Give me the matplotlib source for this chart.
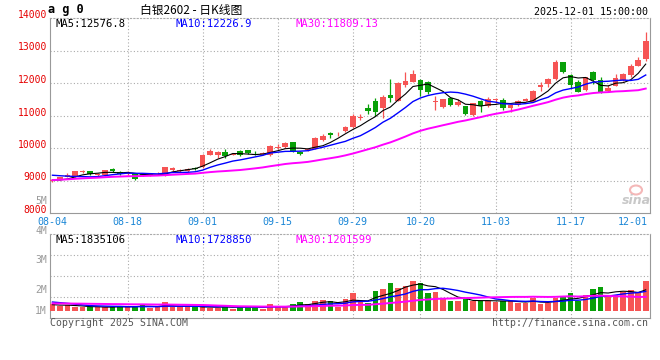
import numpy as np
import pandas as pd
import matplotlib
matplotlib.use('Agg')
import matplotlib.pyplot as plt
from matplotlib.transforms import ScaledTranslation
from matplotlib.patches import Ellipse

# ag0 daily K, 2025-08-04 .. 2025-12-01 (80 sessions)
open_ = [8990, 9030, 9120, 9110, 9260, 9280, 9170, 9160, 9350, 9260,
         9190, 9220, 9175, 9170, 9190, 9170, 9330, 9300, 9300, 9400,
         9410, 9800, 9800, 9890, 9800, 9920, 9930, 9830, 9815, 9780,
         10000, 10040, 10170, 9890, 9930, 9980, 10260, 10450, 10420, 10530,
         10640, 10920, 11240, 11450, 11230, 11630, 11460, 11950, 12040, 12090,
         12030, 11430, 11250, 11530, 11320, 11280, 11030, 11450, 11290, 11470,
         11470, 11220, 11330, 11460, 11430, 11870, 11970, 12110, 12640, 12240,
         12030, 11770, 12340, 12090, 11740, 11920, 12090, 12250, 12530, 12740]
high = [9060, 9120, 9230, 9290, 9330, 9300, 9220, 9320, 9380, 9280,
        9280, 9230, 9200, 9220, 9250, 9420, 9430, 9350, 9390, 9430,
        9810, 9970, 9900, 9960, 9860, 9940, 9950, 9900, 9870, 10090,
        10120, 10190, 10180, 9920, 10010, 10330, 10420, 10500, 10490, 10690,
        11050, 11050, 11350, 11540, 11630, 12120, 12030, 12340, 12400, 12120,
        12060, 11590, 11520, 11560, 11500, 11300, 11400, 11480, 11560, 11530,
        11540, 11350, 11480, 11550, 11780, 12020, 12140, 12710, 12660, 12290,
        12090, 12200, 12360, 12190, 11950, 12270, 12320, 12600, 12810, 13570]
low = [8950, 9010, 9100, 9100, 9220, 9180, 9150, 9140, 9260, 9180,
       9170, 9010, 9140, 9130, 9160, 9150, 9300, 9270, 9270, 9330,
       9400, 9780, 9700, 9690, 9770, 9740, 9820, 9780, 9790, 9760,
       9980, 10010, 9880, 9770, 9900, 9960, 10220, 10320, 10380, 10500,
       10620, 10850, 11050, 10970, 10930, 11430, 11450, 11870, 12020, 11610,
       11650, 11180, 11220, 11280, 11300, 11020, 11000, 11120, 11270, 11400,
       11180, 11100, 11300, 11440, 11420, 11740, 11870, 12090, 12310, 11850,
       11710, 11750, 11970, 11680, 11720, 11900, 12060, 12170, 12510, 12680]
close = [9030, 9100, 9180, 9280, 9275, 9200, 9185, 9310, 9280, 9200,
         9270, 9040, 9165, 9185, 9200, 9400, 9380, 9330, 9360, 9350,
         9790, 9900, 9880, 9760, 9820, 9770, 9840, 9800, 9830, 10070,
         10040, 10150, 9900, 9810, 9960, 10310, 10370, 10400, 10440, 10660,
         10980, 10950, 11130, 11110, 11580, 11530, 12010, 12070, 12270, 11770,
         11720, 11450, 11500, 11310, 11430, 11040, 11380, 11290, 11500, 11490,
         11230, 11330, 11450, 11520, 11760, 11940, 12110, 12640, 12350, 11950,
         11720, 12190, 12080, 11700, 11860, 12140, 12270, 12520, 12700, 13280]
# volume, millions of lots
volume = [0.63, 0.40, 0.49, 0.34, 0.34, 0.34, 0.34, 0.34, 0.34, 0.46,
          0.34, 0.40, 0.57, 0.29, 0.34, 0.74, 0.34, 0.34, 0.34, 0.34,
          0.40, 0.29, 0.29, 0.46, 0.20, 0.46, 0.34, 0.34, 0.20, 0.57,
          0.40, 0.40, 0.57, 0.74, 0.63, 0.91, 0.94, 0.83, 0.34, 1.00,
          1.60, 0.77, 0.69, 1.77, 1.94, 2.46, 2.03, 2.20, 2.63, 2.46,
          1.60, 1.69, 1.00, 0.91, 0.86, 1.00, 0.83, 0.91, 0.91, 0.77,
          0.91, 0.83, 0.69, 0.69, 1.11, 0.57, 0.69, 1.11, 1.20, 1.60,
          0.91, 1.43, 1.94, 2.11, 1.43, 1.43, 1.69, 1.80, 1.69, 2.60]
# sessions before 08-04, only feed the moving averages
pre_close = [8800, 8820, 8790, 8850, 8880, 8900, 8870, 8920, 8950, 8980,
             8960, 9000, 8990, 9010, 9030, 8980, 8970, 9000, 9050, 9050,
             9250, 9320, 9350, 9330, 9290, 9100, 9020, 8980, 8950]
pre_volume = [0.52, 0.58, 0.61, 0.55, 0.66, 0.60, 0.57, 0.63, 0.59, 0.64,
              0.62, 0.56, 0.60, 0.65, 0.58, 0.61, 0.63, 0.59, 0.62, 0.60,
              0.95, 1.10, 1.02, 0.98, 1.00, 0.58, 0.52, 0.50, 0.52]
tick_idx = [0, 10, 20, 30, 40, 49, 59, 69, 79]
tick_lab = ['08-04', '08-18', '09-01', '09-15', '09-29', '10-20', '11-03', '11-17', '12-01']

RED = '#f65454'
GREEN = '#08a008'
GRID = '#aaaaaa'
MONO = 'DejaVu Sans Mono'
W, H = 660, 360

def box(l, t, r, b):
    return [l / W, 1 - b / H, (r - l) / W, (b - t) / H]

def ma(pre, vals, n):
    s = pd.Series(list(pre) + list(vals)).rolling(n).mean().values
    return s[-len(vals):]

o = np.array(open_); c = np.array(close)
x = np.arange(len(close))
cols = np.where(c >= o, RED, GREEN)

fig = plt.figure(figsize=(6.6, 3.6), dpi=100)
ax = fig.add_axes(box(50, 18, 650, 213))
axv = fig.add_axes(box(50, 234, 650, 318))

# candles
ax.vlines(x, low, high, colors=cols, lw=0.9, zorder=2)
ax.bar(x, np.maximum(np.abs(c - o), 25), bottom=np.minimum(o, c), width=0.75,
       color=cols, linewidth=0, zorder=3)
ax.plot(x, ma(pre_close, close, 5), color='black', lw=0.8, zorder=4)
ax.plot(x, ma(pre_close, close, 10), color='#0000ff', lw=1.0, zorder=4)
ax.plot(x, ma(pre_close, close, 30), color='#ff00ff', lw=1.4, zorder=4)

# volume
axv.bar(x, volume, width=0.75, color=cols, linewidth=0, zorder=3)
axv.plot(x, ma(pre_volume, volume, 5), color='black', lw=0.8, zorder=4)
axv.plot(x, ma(pre_volume, volume, 10), color='#0000ff', lw=1.0, zorder=4)
axv.plot(x, ma(pre_volume, volume, 30), color='#ff00ff', lw=1.4, zorder=4)

for a in (ax, axv):
    a.set_xlim(-0.33, 79.57)
    a.set_xticks(tick_idx)
    a.grid(True, color=GRID, linestyle=(0, (1, 2)), lw=0.8, zorder=0)
    gl = a.get_xgridlines()
    gl[0].set_visible(False)
    gl[-1].set_visible(False)
    for s in ('left', 'bottom', 'right'):
        a.spines[s].set_color('#999999')
        a.spines[s].set_linewidth(0.8)
    a.spines['top'].set_color(GRID)
    a.spines['top'].set_linestyle((0, (1, 2)))
    a.tick_params(length=0, labelleft=False)

ax.set_ylim(8000, 14000)
ax.set_yticks([9000, 10000, 11000, 12000, 13000])
ax.set_xticklabels(tick_lab)
ax.tick_params(axis='x', pad=3, labelsize=7.2, labelcolor='#1a86d6')
for lab in ax.get_xticklabels():
    lab.set_family(MONO)
last = ax.get_xticklabels()[-1]
last.set_ha('right')
last.set_transform(last.get_transform() + ScaledTranslation(0.025, 0, fig.dpi_scale_trans))

vlo, vhi = -0.61, 6.7
axv.set_ylim(vlo, vhi)
axv.set_yticks([vlo + f * (vhi - vlo) for f in (0.25, 0.5, 0.75)])
axv.tick_params(labelbottom=False)

# price labels, drawn a little above their grid lines
ptrans = ax.get_yaxis_transform() + ScaledTranslation(-0.03, 0.03, fig.dpi_scale_trans)
for p in range(8000, 14001, 1000):
    ax.text(0, p, str(p), transform=ptrans, ha='right', va='center',
            fontsize=7, family=MONO, color='#e60000', clip_on=False)

# volume labels (as printed by the site)
for lab, yy in [('5M', 201), ('4M', 231), ('3M', 260), ('2M', 290), ('1M', 311)]:
    fig.text(47 / W, 1 - yy / H, lab, ha='right', va='center', fontsize=7,
             family=MONO, color='#999999')

# header
fig.text(48 / W, 1 - 10 / H, 'a g 0', ha='left', va='center', fontsize=8.6,
         family=MONO, weight='bold')
fig.text(140 / W, 1 - 10 / H, '白银2602 - 日K线图', ha='left', va='center',
         fontsize=8.5, family=['Noto Sans CJK SC', 'DejaVu Sans'])
fig.text(648 / W, 1 - 12 / H, '2025-12-01 15:00:00', ha='right', va='center',
         fontsize=7.2, family=MONO)

for lab, xx, col in [('MA5:12576.8', 55, 'black'), ('MA10:12226.9', 175, '#0000ff'),
                     ('MA30:11809.13', 295, '#ff00ff')]:
    fig.text(xx / W, 1 - 24 / H, lab, ha='left', va='center', fontsize=7.6,
             family=MONO, color=col)
for lab, xx, col in [('MA5:1835106', 55, 'black'), ('MA10:1728850', 175, '#0000ff'),
                     ('MA30:1201599', 295, '#ff00ff')]:
    fig.text(xx / W, 1 - 240 / H, lab, ha='left', va='center', fontsize=7.6,
             family=MONO, color=col)

# watermark
fig.add_artist(Ellipse((636 / W, 1 - 190 / H), 12 / W, 9 / H, transform=fig.transFigure,
                       fill=False, ec='#f4b8b8', lw=1.5))
fig.text(636 / W, 1 - 201 / H, 'sina', ha='center', va='center', fontsize=9,
         style='italic', weight='bold', color='#c8c8c8')

fig.text(50 / W, 1 - 323 / H, 'Copyright 2025 SINA.COM', ha='left', va='center',
         fontsize=7.1, family=MONO, color='#555555')
fig.text(648 / W, 1 - 323 / H, 'http://finance.sina.com.cn', ha='right', va='center',
         fontsize=7.1, family=MONO, color='#555555')

fig.savefig('out.png', dpi=100)
